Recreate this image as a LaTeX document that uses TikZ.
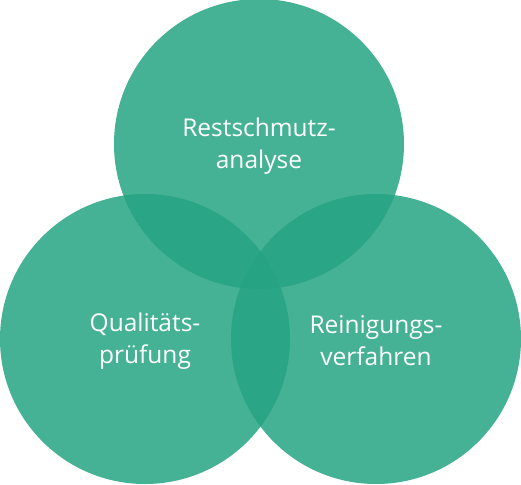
\documentclass[tikz,border=0pt]{standalone}
\usepackage{fontspec}
\setmainfont{Open Sans}
\definecolor{venn}{RGB}{37,163,130}
\begin{document}
\begin{tikzpicture}[x=1pt,y=-1pt,
  circ/.style={fill=venn,fill opacity=0.85,draw=none},
  lab/.style={text=white,align=center,font=\fontsize{24.5}{32}\selectfont,inner sep=0pt}]
\useasboundingbox (0,0) rectangle (521,484);
\fill[circ] (259,144) circle (145);
\fill[circ] (145,339) circle (145);
\fill[circ] (376,339) circle (145);
\node[lab] (t) at (259,146) {Restschmutz-\\analyse};
\node[lab] (l) at (145,341) {Qualitäts-\\prüfung};
\node[lab] (r) at (376,341) {Reinigungs-\\verfahren};
\end{tikzpicture}
\end{document}
